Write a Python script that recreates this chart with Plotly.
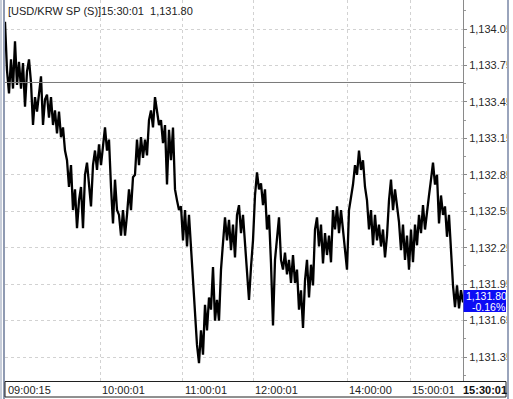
import plotly.graph_objects as go

# ---- data (tick-based price series, USD/KRW spot) ----
prices = [
    1134.11, 1133.71, 1133.52, 1133.80, 1133.56, 1133.95, 1133.59, 1133.78, 1133.56, 1133.77,
    1133.41, 1133.70, 1133.80, 1133.61, 1133.26, 1133.49, 1133.37, 1133.51, 1133.66, 1133.26,
    1133.47, 1133.51, 1133.32, 1133.49, 1133.26, 1133.38, 1133.19, 1133.37, 1133.16, 1133.24,
    1133.05, 1132.97, 1132.75, 1132.93, 1132.56, 1132.73, 1132.41, 1132.64, 1132.75, 1132.41,
    1132.85, 1132.95, 1132.73, 1132.59, 1132.93, 1133.05, 1132.89, 1133.10, 1132.93, 1133.11,
    1133.24, 1133.05, 1133.14, 1132.75, 1132.45, 1132.81, 1132.56, 1132.52, 1132.35, 1132.56,
    1132.35, 1132.52, 1132.73, 1132.56, 1132.83, 1132.85, 1133.14, 1132.93, 1133.16, 1132.99,
    1133.14, 1133.01, 1133.30, 1133.38, 1133.24, 1133.49, 1133.38, 1133.26, 1133.30, 1133.11,
    1133.26, 1132.77, 1133.22, 1132.97, 1133.24, 1132.73, 1132.64, 1132.56, 1132.59, 1132.31,
    1132.56, 1132.26, 1132.52, 1132.27, 1132.03, 1131.74, 1131.45, 1131.30, 1131.57, 1131.37,
    1131.78, 1131.57, 1131.84, 1131.74, 1132.09, 1131.65, 1131.82, 1131.65, 1132.07, 1132.29,
    1132.50, 1132.31, 1132.48, 1132.23, 1132.44, 1132.17, 1132.52, 1132.60, 1132.37, 1132.52,
    1132.31, 1132.07, 1131.82, 1132.09, 1132.31, 1132.68, 1132.87, 1132.73, 1132.78, 1132.60,
    1132.73, 1132.40, 1132.52, 1132.12, 1131.61, 1132.15, 1132.31, 1132.50, 1132.15, 1132.07,
    1132.21, 1132.03, 1132.15, 1131.96, 1132.19, 1131.96, 1132.07, 1131.74, 1131.90, 1131.59,
    1131.98, 1132.15, 1131.84, 1132.11, 1131.94, 1132.40, 1132.50, 1132.26, 1132.44, 1132.12,
    1132.37, 1132.19, 1132.35, 1132.13, 1132.56, 1132.40, 1132.59, 1132.37, 1132.56, 1132.40,
    1132.27, 1132.07, 1132.56, 1132.67, 1132.77, 1132.93, 1132.85, 1133.05, 1132.89, 1132.97,
    1132.75, 1132.64, 1132.40, 1132.56, 1132.27, 1132.52, 1132.31, 1132.44, 1132.26, 1132.40,
    1132.17, 1132.35, 1132.64, 1132.81, 1132.56, 1132.73, 1132.60, 1132.46, 1132.23, 1132.44,
    1132.15, 1132.35, 1132.07, 1132.40, 1132.13, 1132.44, 1132.27, 1132.52, 1132.37, 1132.60,
    1132.40, 1132.56, 1132.68, 1132.81, 1132.95, 1132.77, 1132.85, 1132.45, 1132.68, 1132.52,
    1132.59, 1132.34, 1132.52, 1132.23, 1131.94, 1131.76, 1131.94, 1131.75, 1131.90, 1131.80,
]
tick_index = list(range(len(prices)))

time_labels = ["09:00:15", "10:00:01", "11:00:01", "12:00:01", "14:00:00", "15:00:01"]
time_idx = [0.5, 47.5, 88.75, 124, 171, 202.5]
last_time = "15:30:01"
symbol = "[USD/KRW SP (S)]"
prev_close = 1133.61
y_ticks = [1131.35, 1131.65, 1131.95, 1132.25, 1132.55, 1132.85, 1133.15, 1133.45, 1133.75, 1134.05]

# ---- layout geometry helpers (pixel -> paper) ----
W, H = 513, 399
ML, MR, MT, MB = 5, 50, 0, 18
PW, PH = W - ML - MR, H - MT - MB


def px_x(px):
    return (px - ML) / PW


def px_y(py):
    return (PH + MT - py) / PH


FONT = "Liberation Sans, Arial, sans-serif"
last = prices[-1]
pct = (last / prev_close - 1) * 100

fig = go.Figure()
fig.add_trace(go.Scatter(
    x=tick_index, y=prices, mode="lines",
    line=dict(color="black", width=2.3),
    hoverinfo="skip", showlegend=False,
))

fig.update_layout(
    width=W, height=H,
    margin=dict(l=ML, r=MR, t=MT, b=MB),
    paper_bgcolor="white", plot_bgcolor="white",
    showlegend=False,
    xaxis=dict(
        range=[0, len(prices) - 1], tickmode="array", tickvals=time_idx[1:],
        showticklabels=False, ticks="", showgrid=True, gridcolor="#d2d2d2",
        griddash="dot", gridwidth=1, zeroline=False, showline=False, fixedrange=True,
    ),
    yaxis=dict(
        side="right", range=[1131.153, 1134.289], tickmode="array", tickvals=y_ticks,
        tickformat=",.2f", showgrid=True, gridcolor="#d2d2d2", griddash="dot", gridwidth=1,
        zeroline=False, showline=True, linecolor="#8a8a8a", linewidth=1,
        ticks="outside", ticklen=3, tickcolor="#8a8a8a",
        tickfont=dict(family=FONT, size=11, color="#2a2a2a"),
        minor=dict(ticks="outside", ticklen=2, tickcolor="#9a9a9a", tickmode="linear",
                   tick0=1131.35, dtick=0.15, showgrid=False),
        fixedrange=True,
    ),
)

shapes = [
    # previous close reference line
    dict(type="line", xref="paper", yref="y", x0=0, x1=1, y0=prev_close, y1=prev_close,
         line=dict(color="#7a7a7a", width=1), layer="above"),
    # clip the right-hand tick labels at the frame
    dict(type="rect", xref="paper", yref="paper", x0=px_x(508), x1=px_x(514),
         y0=px_y(400), y1=px_y(-1), fillcolor="white", line=dict(width=0), layer="above"),
    # right frame
    dict(type="line", xref="paper", yref="paper", x0=px_x(508), x1=px_x(508),
         y0=px_y(399), y1=px_y(0), line=dict(color="#9aa4bc", width=2), layer="above"),
    # left double frame
    dict(type="line", xref="paper", yref="paper", x0=px_x(1), x1=px_x(1),
         y0=px_y(399), y1=px_y(0), line=dict(color="#b4bccc", width=1.5), layer="above"),
    dict(type="line", xref="paper", yref="paper", x0=px_x(4), x1=px_x(4),
         y0=px_y(399), y1=px_y(0), line=dict(color="#6a7898", width=1.5), layer="above"),
    # time axis box
    dict(type="rect", xref="paper", yref="paper", x0=px_x(5), x1=px_x(506),
         y0=px_y(397), y1=px_y(381.5), line=dict(color="#202020", width=1), layer="above"),
    # current price box
    dict(type="rect", xref="paper", yref="paper", x0=px_x(463.5), x1=px_x(506),
         y0=px_y(312), y1=px_y(290), fillcolor="#0c0cf5", line=dict(width=0), layer="above"),
]
fig.update_layout(shapes=shapes)

ann = []
ann.append(dict(
    xref="paper", yref="paper", x=px_x(6), y=px_y(3), xanchor="left", yanchor="top",
    text=f"{symbol}{last_time}\u00a0\u00a0{last:,.2f}", showarrow=False,
    font=dict(family=FONT, size=11, color="#222222"),
))
for lab, xi in zip(time_labels, time_idx):
    ann.append(dict(
        xref="x", yref="paper", x=xi, y=px_y(389.5), xanchor="left", yanchor="middle",
        text=lab, showarrow=False, font=dict(family=FONT, size=11, color="#222222"),
    ))
ann.append(dict(
    xref="paper", yref="paper", x=px_x(485), y=px_y(389.5), xanchor="center", yanchor="middle",
    text=f"<b>{last_time}</b>", showarrow=False, font=dict(family=FONT, size=11, color="#111111"),
))
ann.append(dict(
    xref="paper", yref="paper", x=px_x(487), y=px_y(296), xanchor="center", yanchor="middle",
    text=f"{last:,.2f}", showarrow=False, font=dict(family=FONT, size=10.5, color="white"),
))
ann.append(dict(
    xref="paper", yref="paper", x=px_x(488), y=px_y(306.5), xanchor="center", yanchor="middle",
    text=f"{pct:.2f}%", showarrow=False, font=dict(family=FONT, size=10.5, color="white"),
))
fig.update_layout(annotations=ann)

fig.write_html("out.html")
